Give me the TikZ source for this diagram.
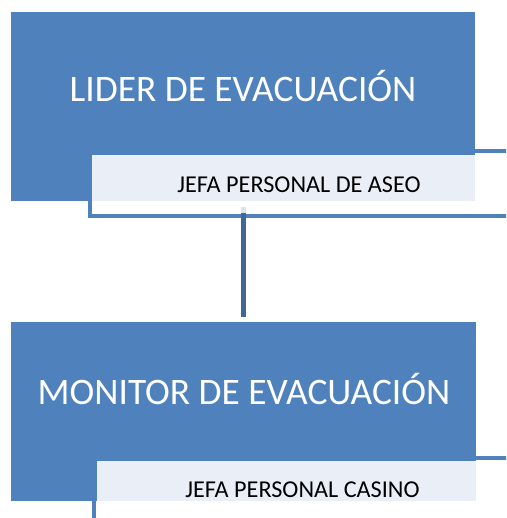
\documentclass[tikz,border=0pt]{standalone}
\usepackage{fontspec}
\setmainfont{Carlito}
\definecolor{boxblue}{HTML}{4F81BD}
\definecolor{lightfill}{HTML}{EAEFF7}
\definecolor{connblue}{HTML}{3F6797}
\definecolor{paleconn}{HTML}{DCE3EE}
\begin{document}
\begin{tikzpicture}[x=1pt,y=-1pt,
  bigbox/.style={draw=none,fill=boxblue,minimum width=#1,inner sep=0pt,outer sep=0pt,rectangle},
  namebox/.style={draw=none,fill=lightfill,inner sep=0pt,outer sep=0pt,rectangle},
  frame/.style={draw=boxblue,line width=4pt},
  bigtext/.style={text=white,font=\fontsize{37.4}{40}\selectfont,inner sep=0pt},
  smalltext/.style={text=black,font=\fontsize{24.2}{28}\selectfont,inner sep=0pt},
  conn/.style={draw=connblue,line width=5pt}]
\useasboundingbox (0,0) rectangle (506,518);
\begin{scope}
\clip (0,0) rectangle (506,518);
% frames behind
\draw[frame] (90,151.5) rectangle (530,216.5);
\draw[frame] (94,457.5) rectangle (530,540);
% top group
\node[bigbox=464, minimum height=189] (lider) at (243,106.5) {};
\node[namebox, minimum width=383, minimum height=46] (jefa1) at (283.5,178) {};
\node[bigtext] (t1) at (243,86) {LIDER DE EVACUACIÓN};
\node[smalltext] (s1) at (299,184.5) {JEFA PERSONAL DE ASEO};
% bottom group
\node[bigbox=465, minimum height=179] (monitor) at (243.5,411.5) {};
\node[namebox, minimum width=379, minimum height=40] (jefa2) at (286.5,481) {};
\node[bigtext] (t2) at (244,389) {MONITOR DE EVACUACIÓN};
\node[smalltext] (s2) at (302.5,490) {JEFA PERSONAL CASINO};
% connector
\coordinate (c0) at (243.5,207);
\coordinate (c1) at (243.5,213.5);
\coordinate (c2) at (243.5,317);
\draw[draw=paleconn,line width=5pt] (c0) -- (c1);
\draw[conn] (c1) -- (c2);
\end{scope}
\end{tikzpicture}
\end{document}
